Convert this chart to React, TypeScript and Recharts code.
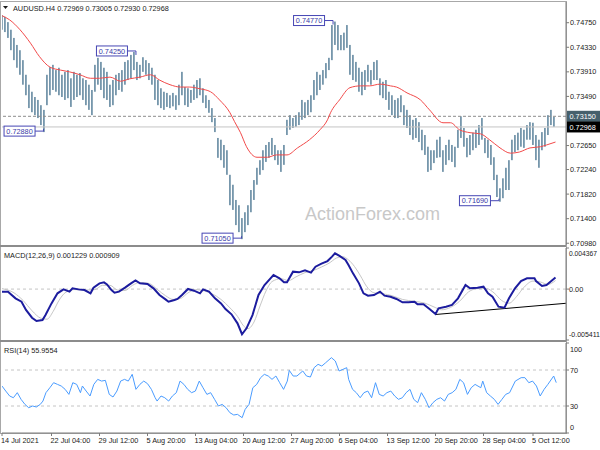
import React from 'react';
import { ComposedChart, Bar, Line, XAxis, YAxis, ReferenceLine, ReferenceDot } from 'recharts';

const FONT = '"Liberation Sans", Arial, sans-serif';
const TXT = '#1a1a1a';

// one candle every 2nd H4 bar: highs and lows
const highs = [
  0.7488, 0.7485, 0.7476, 0.7463, 0.7449, 0.7437, 0.7428, 0.7411, 0.7386, 0.7369,
  0.7357, 0.7348, 0.7343, 0.7334, 0.7326, 0.7386, 0.7399, 0.7403, 0.7394, 0.7398,
  0.7386, 0.7391, 0.7394, 0.7380, 0.7391, 0.7386, 0.7389, 0.7380, 0.7377, 0.7369,
  0.7360, 0.7403, 0.7415, 0.7408, 0.7398, 0.7391, 0.7369, 0.7377, 0.7386, 0.7389,
  0.7394, 0.7408, 0.7411, 0.7420, 0.7425, 0.7408, 0.7403, 0.7416, 0.7411, 0.7406,
  0.7398, 0.7386, 0.7377, 0.7363, 0.7357, 0.7355, 0.7351, 0.7355, 0.7351, 0.7369,
  0.7391, 0.7365, 0.7363, 0.7360, 0.7369, 0.7377, 0.7380, 0.7363, 0.7351, 0.7343,
  0.7329, 0.7312, 0.7278, 0.7275, 0.7266, 0.7257, 0.7215, 0.7198, 0.7172, 0.7163,
  0.7141, 0.7151, 0.7163, 0.7189, 0.7206, 0.7227, 0.7240, 0.7257, 0.7266, 0.7271,
  0.7278, 0.7266, 0.7257, 0.7257, 0.7266, 0.7309, 0.7317, 0.7312, 0.7317, 0.7322,
  0.7343, 0.7339, 0.7343, 0.7351, 0.7377, 0.7391, 0.7386, 0.7394, 0.7406, 0.7415,
  0.7471, 0.7477, 0.7471, 0.7454, 0.7458, 0.7471, 0.7437, 0.7420, 0.7408, 0.7398,
  0.7391, 0.7394, 0.7403, 0.7394, 0.7408, 0.7411, 0.7380, 0.7374, 0.7377, 0.7357,
  0.7351, 0.7343, 0.7346, 0.7351, 0.7334, 0.7326, 0.7317, 0.7309, 0.7312, 0.7305,
  0.7292, 0.7283, 0.7263, 0.7257, 0.7257, 0.7275, 0.7280, 0.7257, 0.7266, 0.7275,
  0.7266, 0.7263, 0.7292, 0.7315, 0.7295, 0.7278, 0.7283, 0.7287, 0.7292, 0.7300,
  0.7312, 0.7278, 0.7275, 0.7266, 0.7245, 0.7215, 0.7192, 0.7209, 0.7227, 0.7240,
  0.7275, 0.7283, 0.7287, 0.7295, 0.7292, 0.7300, 0.7305, 0.7304, 0.7283, 0.7275,
  0.7288, 0.7295, 0.7317, 0.7326, 0.7314,
];
const lows = [
  0.7463, 0.7459, 0.7449, 0.7428, 0.7411, 0.7398, 0.7386, 0.7369, 0.7351, 0.7329,
  0.7322, 0.7317, 0.7312, 0.7300, 0.7288, 0.7334, 0.7351, 0.7360, 0.7357, 0.7351,
  0.7348, 0.7343, 0.7346, 0.7331, 0.7343, 0.7348, 0.7351, 0.7343, 0.7334, 0.7326,
  0.7317, 0.7357, 0.7369, 0.7360, 0.7346, 0.7343, 0.7331, 0.7334, 0.7351, 0.7360,
  0.7357, 0.7369, 0.7377, 0.7380, 0.7394, 0.7377, 0.7380, 0.7391, 0.7386, 0.7377,
  0.7369, 0.7343, 0.7334, 0.7329, 0.7326, 0.7331, 0.7329, 0.7332, 0.7326, 0.7334,
  0.7351, 0.7334, 0.7331, 0.7338, 0.7343, 0.7346, 0.7351, 0.7338, 0.7329, 0.7321,
  0.7305, 0.7288, 0.7244, 0.7240, 0.7227, 0.7215, 0.7163, 0.7155, 0.7129, 0.7117,
  0.7105, 0.7117, 0.7129, 0.7151, 0.7172, 0.7198, 0.7215, 0.7223, 0.7237, 0.7244,
  0.7249, 0.7240, 0.7232, 0.7220, 0.7232, 0.7283, 0.7292, 0.7295, 0.7297, 0.7300,
  0.7309, 0.7312, 0.7317, 0.7322, 0.7343, 0.7351, 0.7360, 0.7369, 0.7380, 0.7394,
  0.7411, 0.7437, 0.7428, 0.7428, 0.7428, 0.7432, 0.7386, 0.7377, 0.7374, 0.7357,
  0.7351, 0.7360, 0.7374, 0.7369, 0.7377, 0.7377, 0.7351, 0.7346, 0.7343, 0.7326,
  0.7317, 0.7312, 0.7312, 0.7322, 0.7300, 0.7295, 0.7283, 0.7275, 0.7278, 0.7271,
  0.7257, 0.7249, 0.7220, 0.7223, 0.7235, 0.7244, 0.7245, 0.7220, 0.7232, 0.7240,
  0.7237, 0.7228, 0.7261, 0.7278, 0.7263, 0.7245, 0.7249, 0.7257, 0.7261, 0.7266,
  0.7275, 0.7252, 0.7244, 0.7232, 0.7206, 0.7177, 0.7169, 0.7175, 0.7189, 0.7189,
  0.7240, 0.7254, 0.7257, 0.7263, 0.7261, 0.7275, 0.7275, 0.7266, 0.7240, 0.7227,
  0.7257, 0.7263, 0.7283, 0.7300, 0.7297,
];

// moving average [bar, price]
const maPoints = [
  [0, 0.7487], [5, 0.748], [12, 0.7463], [19, 0.744], [25, 0.7417], [32, 0.7399], [39, 0.7394],
  [45, 0.7391], [52, 0.7386], [59, 0.738], [65, 0.738], [72, 0.7382], [79, 0.7375], [85, 0.7379],
  [92, 0.7382], [99, 0.7386], [105, 0.7377], [112, 0.7369], [119, 0.7365], [125, 0.7365],
  [132, 0.7362], [139, 0.7357], [145, 0.7343], [152, 0.7321], [155, 0.7306], [159, 0.7287],
  [163, 0.7263], [170, 0.7245], [177, 0.7245], [183, 0.7249], [190, 0.7249], [197, 0.7261],
  [205, 0.7275], [212, 0.7292], [217, 0.7309], [219, 0.7321], [225, 0.7343], [232, 0.7364],
  [239, 0.7367], [245, 0.7367], [252, 0.737], [259, 0.7367], [263, 0.7365], [270, 0.7355],
  [279, 0.7343], [285, 0.7326], [294, 0.7304], [299, 0.7304], [305, 0.7292], [312, 0.7287],
  [319, 0.7285], [325, 0.7275], [332, 0.7261], [339, 0.7252], [345, 0.7254], [352, 0.7261],
  [359, 0.7263], [363, 0.7266], [369, 0.7271],
];

const macdMainPoints = [
  [0, -0.00027], [4, -0.00027], [9, -0.00098], [13, -0.00134], [16, -0.00222], [20, -0.00304],
  [23, -0.00339], [27, -0.00329], [29, -0.00276], [33, -0.00152], [37, -0.00045], [41, -0.00003],
  [45, -0.00027], [47, 0.00008], [51, -0.00003], [55, -0.0001], [59, -0.00045], [61, 0.00015],
  [65, 0.00061], [68, 0.00072], [70, 0.0005], [73, -0.0001], [75, -0.00038], [78, -0.00027],
  [82, 0.00015], [86, 0.00061], [89, 0.00093], [92, 0.00061], [97, 0.00054], [101, 0.00008],
  [105, -0.00063], [109, -0.00109], [111, -0.00134], [115, -0.00116], [117, -0.00105],
  [120, -0.00063], [124, 0.00001], [128, -0.00017], [132, -0.00045], [134, -0.00003],
  [138, -0.00027], [142, -0.00098], [146, -0.00152], [149, -0.00212], [153, -0.00268],
  [157, -0.00364], [160, -0.0048], [163, -0.00417], [167, -0.00276], [171, -0.00063],
  [175, 0.00043], [179, 0.00114], [181, 0.0015], [185, 0.00114], [188, 0.00072], [190, 0.00072],
  [194, 0.00185], [198, 0.00178], [202, 0.00199], [206, 0.00175], [209, 0.00238], [213, 0.0027],
  [217, 0.00298], [220, 0.00345], [222, 0.0038], [225, 0.00352], [229, 0.00309], [231, 0.00256],
  [234, 0.00167], [238, 0.00061], [241, -0.00045], [244, -0.0007], [248, -0.00063],
  [252, -0.00027], [255, -0.0007], [259, -0.00081], [263, -0.00105], [267, -0.00141],
  [271, -0.00141], [275, -0.00134], [277, -0.00162], [281, -0.00162], [285, -0.00212],
  [289, -0.00265], [291, -0.00205], [296, -0.00187], [300, -0.00169], [304, -0.00098],
  [309, 0.00043], [312, 0.00008], [317, 0.00015], [321, 0.00026], [324, -0.00045],
  [327, -0.00081], [331, -0.00187], [335, -0.00198], [338, -0.00098], [342, 0.00008],
  [346, 0.00086], [350, 0.00114], [355, 0.00114], [356, 0.00086], [360, 0.00033],
  [363, 0.00043], [367, 0.00097], [369, 0.00123],
];

const macdSignalPoints = [
  [0, 0.00005], [8, -0.0004], [14, -0.0012], [20, -0.0023], [26, -0.0031], [30, -0.0032],
  [34, -0.0024], [38, -0.0012], [42, -0.0004], [48, -0.00005], [56, -0.0001], [62, -0.00005],
  [67, 0.0004], [72, 0.0004], [77, -0.0001], [82, -0.00015], [87, 0.0004], [92, 0.0007],
  [98, 0.0006], [104, -0.0001], [109, -0.0007], [114, -0.0011], [119, -0.001], [124, -0.0004],
  [129, -0.00005], [135, -0.0002], [140, -0.0005], [146, -0.0011], [152, -0.002], [157, -0.0029],
  [161, -0.0039], [164, -0.0042], [168, -0.0035], [172, -0.0018], [176, -0.0002], [180, 0.0008],
  [186, 0.0011], [191, 0.0009], [196, 0.0013], [202, 0.00175], [208, 0.002], [213, 0.00235],
  [218, 0.00275], [223, 0.0033], [227, 0.00345], [231, 0.0031], [235, 0.0024], [239, 0.0014],
  [243, 0.0003], [248, -0.0004], [254, -0.0005], [260, -0.0007], [267, -0.0011], [275, -0.0013],
  [282, -0.0015], [288, -0.0019], [293, -0.0022], [299, -0.00195], [305, -0.0013], [311, -0.0003],
  [317, 0.00005], [323, 0.00005], [328, -0.0004], [333, -0.0012], [338, -0.0015], [343, -0.0008],
  [348, 0.0002], [354, 0.00085], [359, 0.00075], [364, 0.0005], [369, 0.00091],
];

const rsiPoints = [
  [0, 52.2], [2.5, 46.6], [5.1, 41.1], [7.6, 39.2], [10.2, 44.8], [12.7, 37.4], [15.3, 31.8],
  [17.8, 28.1], [20.4, 30.0], [22.9, 28.9], [25.5, 31.8], [27.3, 35.5], [29.3, 44.8], [31.9, 50.3],
  [34.4, 55.9], [37.0, 54.0], [39.5, 52.2], [42.1, 48.5], [44.6, 42.9], [47.2, 55.9], [49.8, 54.0],
  [52.3, 44.8], [53.6, 52.2], [56.1, 46.6], [58.7, 41.1], [61.2, 54.0], [63.8, 59.6], [66.4, 57.7],
  [68.9, 58.5], [71.5, 42.9], [74.0, 40.0], [76.6, 46.6], [79.1, 57.7], [81.7, 59.6], [84.2, 57.7],
  [86.8, 65.2], [89.3, 48.5], [91.9, 54.0], [94.5, 57.7], [97.0, 54.8], [99.6, 48.5], [102.1, 39.2],
  [103.4, 35.5], [106.0, 41.1], [108.5, 39.2], [111.1, 35.5], [113.6, 41.1], [116.2, 44.8],
  [118.7, 57.7], [121.3, 54.0], [123.8, 48.5], [126.4, 44.8], [128.9, 46.6], [131.5, 57.7],
  [134.0, 50.3], [136.6, 42.9], [139.1, 44.8], [141.7, 37.4], [144.3, 30.0], [146.8, 31.8],
  [149.4, 28.1], [151.9, 22.6], [154.5, 20.0], [157.0, 20.7], [160.1, 17.0], [162.1, 26.3],
  [164.7, 31.8], [167.2, 50.3], [169.8, 54.0], [172.4, 61.5], [174.9, 65.2], [177.5, 63.3],
  [180.0, 59.6], [182.6, 63.3], [185.1, 55.9], [187.7, 48.5], [190.2, 57.7], [191.5, 69.6],
  [194.1, 63.3], [196.6, 63.3], [200.5, 68.9], [203.0, 63.3], [205.6, 62.2], [208.1, 72.6],
  [210.7, 76.3], [213.2, 74.4], [215.8, 78.1], [219.6, 83.7], [222.2, 80.0], [224.7, 68.9],
  [227.3, 70.7], [229.8, 72.6], [231.1, 59.6], [233.7, 48.5], [236.2, 44.8], [238.8, 39.2],
  [241.3, 44.8], [243.9, 46.6], [246.4, 39.2], [249.0, 55.9], [251.5, 42.9], [254.1, 41.1],
  [256.6, 44.8], [259.2, 46.6], [261.8, 41.1], [264.3, 37.4], [266.9, 39.2], [269.4, 44.8],
  [272.0, 48.5], [274.5, 37.4], [277.1, 33.7], [279.6, 44.8], [282.2, 37.4], [284.7, 28.1],
  [287.3, 33.7], [289.9, 37.4], [292.4, 39.2], [295.0, 35.5], [297.5, 42.9], [300.1, 44.8],
  [302.6, 48.5], [305.2, 59.6], [307.7, 55.9], [310.3, 42.9], [312.8, 50.3], [315.4, 54.0],
  [319.2, 50.3], [320.5, 57.7], [323.1, 44.8], [325.6, 41.1], [328.2, 37.4], [330.7, 31.8],
  [333.3, 37.4], [335.8, 42.9], [338.4, 44.8], [342.2, 57.7], [346.1, 61.5], [348.6, 61.5],
  [351.2, 55.9], [353.7, 57.7], [356.3, 52.2], [358.8, 41.1], [361.4, 48.5], [363.9, 54.0],
  [367.8, 63.3], [369.5, 55.96],
];

const xTickBars = [0, 33, 65, 97, 129, 161, 193, 225, 257, 289, 321, 354];
const xTickLabels = [
  '14 Jul 2021', '22 Jul 04:00', '29 Jul 12:00', '5 Aug 20:00', '13 Aug 04:00', '20 Aug 12:00',
  '27 Aug 20:00', '6 Sep 04:00', '13 Sep 12:00', '20 Sep 20:00', '28 Sep 04:00', '5 Oct 12:00',
];
const priceTicks = [0.7098, 0.714, 0.7182, 0.7224, 0.7265, 0.7349, 0.7391, 0.7433, 0.7475];
const macdTicks = [-0.005411, 0, 0.004367];
const macdTickLabels = ['-0.005411', '0.00', '0.004367'];
const rsiTicks = [0, 30, 70, 100];

// swing highs / lows with their boxes
const swingBars = [27.7, 89.3, 159.7, 220.7, 331.3];
const swingPrices = [0.7288, 0.7425, 0.7105, 0.7477, 0.7169];
const swingIsHigh = [false, true, false, true, false];

const candles = highs.map((h, k) => ({ bar: k * 2, range: [lows[k], h] }));
const maData = maPoints.map(([bar, v]) => ({ bar, v }));
const macdMain = macdMainPoints.map(([bar, v]) => ({ bar, v }));
const macdSignal = macdSignalPoints.map(([bar, v]) => ({ bar, v }));
const rsiData = rsiPoints.map(([bar, v]) => ({ bar, v }));

const X_DOMAIN: [number, number] = [0, 376];

const Candle = (props: any) => {
  const { x, y, width, height } = props;
  if (x == null || y == null) return null;
  const top = Math.min(y, y + height);
  const h = Math.max(Math.abs(height), 1);
  return <rect x={x + width / 2 - 0.75} y={top} width={1.5} height={h} fill="#5b829b" />;
};

const swingShape = (label: string, isHigh: boolean) => (props: any) => {
  const { cx, cy } = props;
  if (cx == null) return null;
  const right = cx - 8.5;
  const my = cy - 1;
  return (
    <g>
      <polyline
        points={`${right},${my} ${cx},${my} ${cx},${cy + (isHigh ? 3 : -3)}`}
        fill="none"
        stroke="#4646b4"
        strokeWidth={1}
      />
      <rect x={right - 31} y={my - 5} width={31} height={10} fill="#fff" stroke="#4646b4" strokeWidth={1} />
      <text x={right - 15.5} y={my + 2.6} textAnchor="middle" fontSize={7.3} fontFamily={FONT} fill="#3a3aa8">
        {label}
      </text>
    </g>
  );
};

const priceTag = (text: string, bg: string) => (props: any) => {
  const vb = props.viewBox || {};
  const x = (vb.x || 0) + (vb.width || 0) + 1;
  const y = vb.y || 0;
  return (
    <g>
      <rect x={x} y={y - 5.5} width={33} height={11} fill={bg} />
      <text x={x + 2.5} y={y + 2.6} fontSize={7.3} fontFamily={FONT} fill="#fff">
        {text}
      </text>
    </g>
  );
};

const axisText = (x: number, y: number, s: string, dy = 0, fit = 0) => (
  <text
    x={x}
    y={y + 2.6 + dy}
    fontSize={7.3}
    fontFamily={FONT}
    fill={TXT}
    textAnchor="start"
    textLength={fit || undefined}
    lengthAdjust={fit ? 'spacingAndGlyphs' : undefined}
  >
    {s}
  </text>
);

const MainTick = (p: any) => axisText(p.x, p.y, Number(p.payload.value).toFixed(5));
const MacdTick = (p: any) => {
  const i = macdTicks.indexOf(p.payload.value);
  const dy = i === 0 ? -6 : i === 2 ? 5 : 0;
  const s = macdTickLabels[i] ?? String(p.payload.value);
  return axisText(p.x - 1, p.y, s, dy, s.length > 5 ? (s.length > 8 ? 31 : 28) : 0);
};
const RsiTick = (p: any) => {
  const v = p.payload.value;
  const dy = v === 0 ? -6 : v === 100 ? 6 : 0;
  return axisText(p.x, p.y, String(v), dy);
};
const TimeTick = (p: any) => {
  const i = xTickBars.indexOf(p.payload.value);
  return (
    <text x={p.x - 1} y={p.y + 6} fontSize={7.3} fontFamily={FONT} fill={TXT} textAnchor="start">
      {xTickLabels[i]}
    </text>
  );
};

const GRAY = '#7c7c7c';

const App = () => {
  return (
    <div style={{ position: 'fixed', left: 0, top: 0, width: 600, height: 450, background: '#fff' }}>
      <svg width={600} height={450} style={{ position: 'absolute', left: 0, top: 0 }}>
        <rect x={0.5} y={1.5} width={566} height={432} fill="none" stroke="#a8a8a8" />
        <line x1={0} x2={566} y1={246} y2={246} stroke="#8c8c8c" strokeWidth={2} />
        <line x1={0} x2={566} y1={341} y2={341} stroke="#8c8c8c" strokeWidth={2} />
        <polygon points="3,6 8,6 5.5,9" fill={TXT} />
        <text x={13} y={10.5} fontSize={7.3} fontFamily={FONT} fill={TXT}>
          AUDUSD.H4  0.72969 0.73005 0.72930 0.72968
        </text>
        <text x={4} y={257.5} fontSize={7.3} fontFamily={FONT} fill={TXT}>
          MACD(12,26,9) 0.001229 0.000909
        </text>
        <text x={4} y={352.5} fontSize={7.3} fontFamily={FONT} fill={TXT}>
          RSI(14) 55.9554
        </text>
        <text x={305} y={220} fontSize={18} fontFamily={FONT} fill="#c8c8c8">
          ActionForex.com
        </text>
      </svg>

      <div style={{ position: 'absolute', left: 0, top: 0 }}>
        <ComposedChart width={600} height={251} data={candles} margin={{ top: 2, right: 0, bottom: 6, left: 2 }}>
          <XAxis dataKey="bar" type="number" domain={X_DOMAIN} allowDataOverflow hide />
          <YAxis
            orientation="right"
            width={34}
            type="number"
            domain={[0.7095, 0.75104]}
            allowDataOverflow
            ticks={priceTicks}
            interval={0}
            tick={MainTick}
            tickSize={3}
            tickMargin={1}
            axisLine={{ stroke: GRAY }}
            tickLine={{ stroke: GRAY }}
          />
          <ReferenceLine y={0.7315} stroke="#8c8c8c" strokeDasharray="3 2" label={priceTag('0.73150', '#46606c')} />
          <ReferenceLine y={0.72968} stroke="#c4c4c4" label={priceTag('0.72968', '#000')} />
          <Bar dataKey="range" barSize={2} shape={Candle} isAnimationActive={false} />
          <Line
            data={maData}
            dataKey="v"
            type="monotone"
            stroke="#f24a4a"
            strokeWidth={1}
            dot={false}
            isAnimationActive={false}
          />
          {swingBars.map((b, i) => (
            <ReferenceDot
              key={i}
              x={b}
              y={swingPrices[i]}
              r={0}
              shape={swingShape(swingPrices[i].toFixed(5), swingIsHigh[i])}
            />
          ))}
        </ComposedChart>
      </div>

      <div style={{ position: 'absolute', left: 0, top: 247 }}>
        <ComposedChart width={600} height={94} data={macdMain} margin={{ top: 1, right: 0, bottom: 1, left: 2 }}>
          <XAxis dataKey="bar" type="number" domain={X_DOMAIN} allowDataOverflow hide />
          <YAxis
            orientation="right"
            width={34}
            type="number"
            domain={[-0.005411, 0.004367]}
            allowDataOverflow
            ticks={macdTicks}
            interval={0}
            tick={MacdTick}
            tickSize={3}
            tickMargin={1}
            axisLine={{ stroke: GRAY }}
            tickLine={{ stroke: GRAY }}
          />
          <ReferenceLine y={0} stroke="#c4c4c4" strokeDasharray="3 3" />
          <ReferenceLine
            segment={[
              { x: 289, y: -0.0027 },
              { x: 376, y: -0.00151 },
            ]}
            stroke="#000"
            strokeWidth={1}
          />
          <Line
            data={macdSignal}
            dataKey="v"
            type="monotone"
            stroke="#c6c6c6"
            strokeWidth={1}
            dot={false}
            isAnimationActive={false}
          />
          <Line
            data={macdMain}
            dataKey="v"
            type="linear"
            stroke="#1c1c9e"
            strokeWidth={2}
            dot={false}
            isAnimationActive={false}
          />
        </ComposedChart>
      </div>

      <div style={{ position: 'absolute', left: 0, top: 341 }}>
        <ComposedChart width={600} height={109} data={rsiData} margin={{ top: 2, right: 0, bottom: 0, left: 2 }}>
          <XAxis
            dataKey="bar"
            type="number"
            domain={X_DOMAIN}
            allowDataOverflow
            ticks={xTickBars}
            interval={0}
            height={17}
            tick={TimeTick}
            tickSize={3}
            tickMargin={1}
            axisLine={{ stroke: GRAY }}
            tickLine={{ stroke: GRAY }}
          />
          <YAxis
            orientation="right"
            width={34}
            type="number"
            domain={[0, 100]}
            allowDataOverflow
            ticks={rsiTicks}
            interval={0}
            tick={RsiTick}
            tickSize={3}
            tickMargin={1}
            axisLine={{ stroke: GRAY }}
            tickLine={{ stroke: GRAY }}
          />
          <ReferenceLine y={70} stroke="#c4c4c4" strokeDasharray="3 3" />
          <ReferenceLine y={30} stroke="#c4c4c4" strokeDasharray="3 3" />
          <Line
            data={rsiData}
            dataKey="v"
            type="linear"
            stroke="#4a9cff"
            strokeWidth={1}
            dot={false}
            isAnimationActive={false}
          />
        </ComposedChart>
      </div>
    </div>
  );
};

export default App;
